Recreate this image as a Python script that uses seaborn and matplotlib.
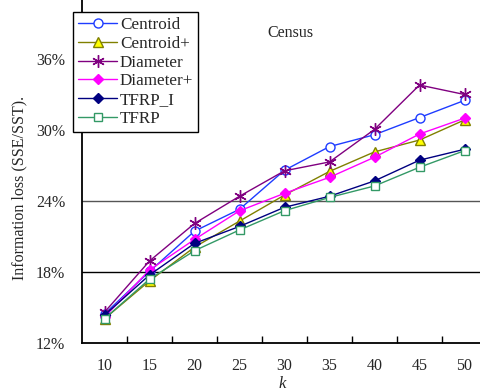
import matplotlib
matplotlib.use("Agg")
import matplotlib.pyplot as plt
import seaborn as sns
import pandas as pd
import numpy as np
from matplotlib.ticker import FixedLocator, FuncFormatter

sns.set_style("white")
plt.rcParams["font.family"] = ["Liberation Serif", "DejaVu Serif"]

# cluster counts and information loss (%) per method
k_values = [10, 15, 20, 25, 30, 35, 40, 45, 50]
centroid = [14.45, 18.05, 21.45, 23.3, 26.6, 28.6, 29.6, 31.05, 32.5]
centroid_plus = [14.05, 17.25, 20.1, 22.3, 24.5, 26.5, 28.15, 29.15, 30.85]
diameter = [14.6, 18.93, 22.1, 24.4, 26.55, 27.3, 30.05, 33.8, 33.0]
diameter_plus = [14.2, 18.17, 20.75, 23.17, 24.65, 26.0, 27.7, 29.66, 31.0]
tfrp_i = [14.35, 17.75, 20.42, 21.85, 23.47, 24.4, 25.7, 27.45, 28.37]
tfrp = [14.05, 17.4, 19.8, 21.55, 23.18, 24.3, 25.27, 26.85, 28.25]

series = ["Centroid", "Centroid+", "Diameter", "Diameter+", "TFRP_I", "TFRP"]
values = [centroid, centroid_plus, diameter, diameter_plus, tfrp_i, tfrp]
y_ticks = [12, 18, 24, 30, 36]

styles = {
    "Centroid": dict(color="#1E3CFF", marker="o", mfc="white", mec="#1E3CFF", ms=6.5),
    "Centroid+": dict(color="#808000", marker="^", mfc="#FFFF00", mec="#808000", ms=7),
    "Diameter": dict(color="#800080", marker=(6, 2, 0), mfc="#800080", mec="#800080", ms=9),
    "Diameter+": dict(color="#FF00FF", marker="D", mfc="#FF00FF", mec="#FF00FF", ms=5.5),
    "TFRP_I": dict(color="#000080", marker="D", mfc="#000080", mec="#000080", ms=5.5),
    "TFRP": dict(color="#339966", marker="s", mfc="white", mec="#339966", ms=6),
}

rows = []
for name, vals in zip(series, values):
    for i, (k, v) in enumerate(zip(k_values, vals)):
        rows.append({"pos": i, "k": k, "loss": v, "method": name})
df = pd.DataFrame(rows)

W, H = 481, 392
fig = plt.figure(figsize=(W / 100, H / 100), dpi=100)
ax = fig.add_axes([82 / W, (H - 343) / H, 405 / W, 355 / H])

for name in series:
    st = styles[name]
    sub = df[df["method"] == name]
    sns.lineplot(data=sub, x="pos", y="loss", ax=ax, color=st["color"],
                 marker=st["marker"], markerfacecolor=st["mfc"],
                 markeredgecolor=st["mec"], markersize=st["ms"],
                 markeredgewidth=1.0, linewidth=1.0, label=name,
                 sort=False, zorder=3)

ax.axhline(24, color="#555555", lw=1.0, zorder=1)
ax.axhline(18, color="black", lw=1.0, zorder=1)

ax.set_xlim(-0.5, len(k_values) - 0.5)
ax.set_ylim(12, 42)
ax.set_xticks(range(len(k_values)))
ax.set_xticklabels([str(k) for k in k_values], fontsize=11.5)
ax.xaxis.set_minor_locator(FixedLocator(np.arange(0.5, len(k_values), 1.0)))
ax.tick_params(axis="x", which="major", length=0, pad=11)
ax.tick_params(axis="x", which="minor", direction="in", length=5, width=1, color="black", bottom=True)
ax.set_yticks(y_ticks)
ax.yaxis.set_major_formatter(FuncFormatter(lambda v, p: f"{int(v)}%"))
ax.tick_params(axis="y", length=0, pad=12, labelsize=11.5)
ax.set_xlabel("")
ax.set_ylabel("")

for s in ["top", "right"]:
    ax.spines[s].set_visible(False)
for s in ["left", "bottom"]:
    ax.spines[s].set_color("black")
    ax.spines[s].set_linewidth(1.3)

ax.get_legend().remove()
handles, labels = ax.get_legend_handles_labels()
leg = fig.legend(handles, labels, loc="upper left",
                 bbox_to_anchor=(73 / W, 1 - 12 / H), fontsize=12.3,
                 frameon=True, fancybox=False, framealpha=1,
                 edgecolor="black", handlelength=2.3, handletextpad=0.15,
                 labelspacing=0.16, borderpad=0.3, borderaxespad=0)
leg.get_frame().set_linewidth(1.0)

fig.text(290 / W, 1 - 33 / H, "Census", ha="center", va="center", fontsize=11.5)
fig.text(282 / W, 1 - 384 / H, "k", ha="center", va="center", fontsize=12, style="italic")
fig.text(19 / W, 1 - 188 / H, "Information loss (SSE/SST).", ha="center", va="center",
         rotation=90, fontsize=11.5)

fig.savefig("out.png", dpi=100)
